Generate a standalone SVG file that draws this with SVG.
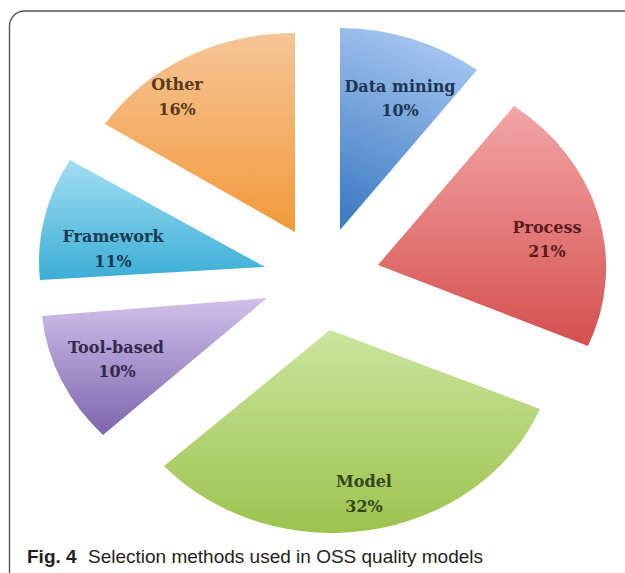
<svg xmlns="http://www.w3.org/2000/svg" width="625" height="573" viewBox="0 0 625 573">
<defs>
<linearGradient id="gBlue" x1="0.6" y1="0" x2="0.3" y2="1"><stop offset="0" stop-color="#a9c8f1"/><stop offset="1" stop-color="#3f7dc4"/></linearGradient>
<linearGradient id="gRed" x1="0.5" y1="0" x2="0.5" y2="1"><stop offset="0" stop-color="#f3a6a6"/><stop offset="1" stop-color="#d4504e"/></linearGradient>
<linearGradient id="gGreen" x1="0.5" y1="0" x2="0.5" y2="1"><stop offset="0" stop-color="#cbe59e"/><stop offset="1" stop-color="#9cc34e"/></linearGradient>
<linearGradient id="gPurple" x1="0.5" y1="0" x2="0.5" y2="1"><stop offset="0" stop-color="#cfc1ea"/><stop offset="1" stop-color="#7d65ad"/></linearGradient>
<linearGradient id="gCyan" x1="0.5" y1="0" x2="0.5" y2="1"><stop offset="0" stop-color="#a3def3"/><stop offset="1" stop-color="#3aaed6"/></linearGradient>
<linearGradient id="gOrange" x1="0.5" y1="0" x2="0.5" y2="1"><stop offset="0" stop-color="#f6c596"/><stop offset="1" stop-color="#f29a3a"/></linearGradient>
<filter id="soft" x="-5%" y="-5%" width="110%" height="110%"><feGaussianBlur stdDeviation="0.7"/></filter>
</defs>
<style>
.lbl{font-family:"DejaVu Serif","Liberation Serif",serif;font-weight:bold;font-size:16px;text-anchor:middle}
.cap{font-family:"Liberation Sans",Arial,sans-serif;font-size:19px;fill:#231f20}
.frame{fill:none;stroke:#555;stroke-width:1.4}
</style>
<path class="frame" d="M9.5,573 V26 A15,15 0 0 1 24.5,11 H625"/>
<g id="slice-data-mining">
<path d="M340,230 L340,28 A225,200 0 0 1 477,70 Z" fill="url(#gBlue)" filter="url(#soft)"/>
<text class="lbl" x="400" y="92" fill="#1c3552">Data mining</text>
<text class="lbl" x="400" y="116" fill="#1c3552">10%</text>
</g>
<g id="slice-process">
<path d="M378,265 L514,106 A225,200 0 0 1 588,346 Z" fill="url(#gRed)" filter="url(#soft)"/>
<text class="lbl" x="547" y="233" fill="#5a1c1c">Process</text>
<text class="lbl" x="547" y="257" fill="#5a1c1c">21%</text>
</g>
<g id="slice-model">
<path d="M330,330 L540,409 A225,200 0 0 1 164,466 Z" fill="url(#gGreen)" filter="url(#soft)"/>
<text class="lbl" x="364" y="487" fill="#34471a">Model</text>
<text class="lbl" x="364" y="512" fill="#34471a">32%</text>
</g>
<g id="slice-tool-based">
<path d="M267,298 L103,435 A225,200 0 0 1 42,316 Z" fill="url(#gPurple)" filter="url(#soft)"/>
<text class="lbl" x="116" y="353" fill="#33284a">Tool-based</text>
<text class="lbl" x="117" y="377" fill="#33284a">10%</text>
</g>
<g id="slice-framework">
<path d="M265,267 L40,280 A225,200 0 0 1 70,160 Z" fill="url(#gCyan)" filter="url(#soft)"/>
<text class="lbl" x="113" y="242" fill="#173a52">Framework</text>
<text class="lbl" x="113" y="267" fill="#173a52">11%</text>
</g>
<g id="slice-other">
<path d="M295,232 L105,124 A225,200 0 0 1 295,33 Z" fill="url(#gOrange)" filter="url(#soft)"/>
<text class="lbl" x="177" y="90" fill="#553a1c">Other</text>
<text class="lbl" x="177" y="115" fill="#553a1c">16%</text>
</g>
<g id="connectors"/>
<text class="cap" x="27" y="563"><tspan font-weight="bold">Fig. 4</tspan><tspan x="88">Selection methods used in OSS quality models</tspan></text>
</svg>
